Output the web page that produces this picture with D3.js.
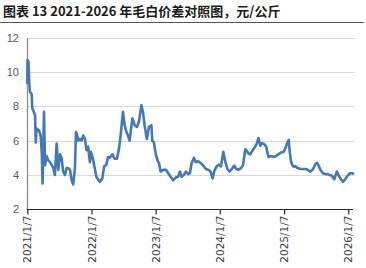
<!DOCTYPE html>
<html>
<head>
<meta charset="utf-8">
<script src="https://cdn.jsdelivr.net/npm/d3@7"></script>
<style>
  body { margin: 0; background: #fff; }
  svg { display: block; font-family: "Noto Sans CJK SC", "Liberation Sans", sans-serif; }
</style>
</head>
<body>
<div id="chart"></div>
<script>
// 毛白价差 (元/公斤), weekly-ish readings
const dates = [
  "2021-01-07","2021-01-08","2021-01-14","2021-01-18","2021-01-22","2021-02-01","2021-02-04","2021-02-14","2021-02-20","2021-02-24",
  "2021-03-01","2021-03-14","2021-03-24","2021-03-30","2021-04-04","2021-04-12","2021-04-18","2021-04-27","2021-05-06","2021-05-16",
  "2021-05-26","2021-06-04","2021-06-13","2021-06-23","2021-07-02","2021-07-12","2021-07-21","2021-07-30","2021-08-09","2021-08-19",
  "2021-08-28","2021-09-07","2021-09-16","2021-09-25","2021-10-05","2021-10-11","2021-10-18","2021-10-24","2021-11-02","2021-11-12",
  "2021-11-21","2021-12-01","2021-12-10","2021-12-19","2021-12-29","2022-01-04",
  "2022-01-13","2022-01-22","2022-02-04","2022-02-23","2022-03-10","2022-03-20","2022-04-02","2022-04-11","2022-04-21","2022-05-06",
  "2022-05-19","2022-06-01","2022-06-13","2022-06-22","2022-07-05","2022-07-15","2022-07-25","2022-08-03","2022-08-12","2022-08-28",
  "2022-09-10","2022-09-23","2022-10-04","2022-10-18","2022-10-27","2022-11-05","2022-11-18","2022-11-30","2022-12-14","2022-12-19",
  "2022-12-28",
  "2023-01-09","2023-01-18","2023-01-27","2023-02-04","2023-02-19","2023-03-07","2023-03-20","2023-04-02","2023-04-17","2023-05-02",
  "2023-05-15","2023-05-25","2023-06-03","2023-06-17","2023-06-28","2023-07-11","2023-07-21","2023-07-30","2023-08-13","2023-08-24",
  "2023-09-06","2023-09-20","2023-10-04","2023-10-20","2023-11-02","2023-11-15","2023-11-27","2023-12-06","2023-12-20","2024-01-02",
  "2024-01-14","2024-01-27","2024-02-08","2024-02-19","2024-03-02","2024-03-16","2024-03-29","2024-04-10","2024-04-23","2024-05-06",
  "2024-05-18","2024-05-31","2024-06-09","2024-06-18","2024-06-28","2024-07-13","2024-07-26","2024-08-05","2024-08-14","2024-08-24",
  "2024-09-02","2024-09-15","2024-09-27","2024-10-10","2024-10-23","2024-11-07","2024-11-22","2024-12-05","2024-12-19",
  "2025-01-05","2025-01-14","2025-01-24","2025-02-02","2025-02-08","2025-02-16","2025-02-27","2025-03-12","2025-03-25","2025-04-10",
  "2025-04-25","2025-05-08","2025-05-21","2025-06-05","2025-06-21","2025-07-04","2025-07-13","2025-07-22","2025-08-01","2025-08-16",
  "2025-08-29","2025-09-11","2025-09-23","2025-10-06","2025-10-19","2025-11-03","2025-11-12","2025-11-26","2025-12-07","2025-12-20",
  "2025-12-30","2026-01-07","2026-01-17","2026-02-01","2026-02-08"
];
const spread = [
  9.3,10.7,10.6,9.4,8.85,8.7,7.9,7.65,7.5,5.9,
  6.7,6.6,6.3,5.35,3.5,7.68,4.57,5.1,4.85,4.75,
  4.6,4.4,4.0,5.83,4.3,5.2,5.0,4.2,4.0,4.4,
  4.4,4.3,3.7,3.45,4.4,6.5,6.3,6.0,6.1,6.0,
  6.3,6.1,5.45,5.65,4.75,5.35,
  5.05,4.6,3.9,3.6,3.8,4.5,4.6,5.05,5.0,5.2,
  4.95,4.95,5.55,6.3,7.68,6.9,6.5,6.3,6.0,7.3,
  6.9,6.8,7.1,8.07,7.68,6.9,6.1,6.8,6.9,6.0,
  5.9,
  5.15,4.85,4.65,4.2,4.3,4.3,4.1,3.9,3.7,3.85,
  3.9,4.2,3.9,4.0,4.2,4.05,4.1,4.65,5.0,4.75,
  4.8,4.7,4.55,4.35,4.3,4.2,3.8,4.2,4.5,4.6,
  4.5,5.35,4.75,4.35,4.2,4.35,4.55,4.35,4.3,4.4,
  4.55,5.5,5.4,5.25,5.2,5.45,5.65,5.85,6.15,5.7,
  5.85,5.8,5.65,5.05,5.1,5.05,5.1,5.2,5.3,
  5.35,5.55,5.85,6.05,5.35,4.75,4.5,4.5,4.4,4.35,
  4.35,4.35,4.3,4.2,4.35,4.65,4.7,4.55,4.3,4.1,
  4.05,4.05,4.0,3.95,3.75,4.2,4.0,3.75,3.6,3.75,
  3.9,4.0,4.1,4.1,4.05
];
const xTickDates = ["2021-01-07","2022-01-07","2023-01-07","2024-01-07","2025-01-07","2026-01-07"];
const xTickLabels = ["2021/1/7","2022/1/7","2023/1/7","2024/1/7","2025/1/7","2026/1/7"];
const yTicks = [2,4,6,8,10,12];
const title = "图表 13 2021-2026 年毛白价差对照图，元/公斤";

const W = 366, H = 268;
const parse = d3.timeParse("%Y-%m-%d");
const data = dates.map((d, i) => ({ date: parse(d), value: spread[i] }));

const svg = d3.select("#chart").append("svg")
  .attr("width", W)
  .attr("height", H);

// title + rule
svg.append("text")
  .attr("x", 3)
  .attr("y", 16)
  .style("font-size", "13px")
  .style("font-weight", "bold")
  .style("fill", "#1a1a1a")
  .text(title);
svg.append("line")
  .attr("x1", 0).attr("x2", 364)
  .attr("y1", 22.5).attr("y2", 22.5)
  .attr("stroke", "#555")
  .attr("stroke-width", 1.2);

const x = d3.scaleTime()
  .domain([parse(xTickDates[0]), parse(xTickDates[xTickDates.length - 1])])
  .range([27.3, 348.3]);
const y = d3.scaleLinear()
  .domain([2, 12])
  .range([209.3, 37.7]);

// gridlines
svg.append("g")
  .selectAll("line")
  .data(yTicks.slice(1))
  .enter()
  .append("line")
  .attr("x1", 27).attr("x2", 355)
  .attr("y1", d => Math.round(y(d)) + 0.5)
  .attr("y2", d => Math.round(y(d)) + 0.5)
  .attr("stroke", "#d9d9d9")
  .attr("stroke-width", 1);

// y axis
const yAxis = svg.append("g")
  .attr("transform", "translate(27,0)")
  .call(d3.axisLeft(y).tickValues(yTicks).tickSize(0).tickPadding(8));
yAxis.select(".domain").attr("stroke", "#8c8c8c").attr("stroke-width", 1.3);
yAxis.selectAll("text")
  .style("font-family", "'Liberation Sans', Arial, sans-serif")
  .style("font-size", "11px")
  .style("fill", "#595959");

// x axis
const xAxis = svg.append("g")
  .attr("transform", "translate(0,209.5)")
  .call(d3.axisBottom(x)
    .tickValues(xTickDates.map(parse))
    .tickFormat((d, i) => xTickLabels[i])
    .tickSize(5)
    .tickSizeOuter(0));
xAxis.select(".domain")
  .attr("d", `M27,0H353`)
  .attr("stroke", "#262626")
  .attr("stroke-width", 1.2);
xAxis.selectAll(".tick line").attr("stroke", "#262626").attr("stroke-width", 1.2);
xAxis.selectAll("text")
  .attr("transform", "rotate(-90)")
  .attr("x", -6)
  .attr("y", 0)
  .attr("dy", "0.35em")
  .style("text-anchor", "end")
  .style("font-family", "'DejaVu Sans', sans-serif")
  .style("font-size", "10.5px")
  .style("fill", "#404040");

// series line
svg.append("path")
  .datum(data)
  .attr("fill", "none")
  .attr("stroke", "#4479b8")
  .attr("stroke-width", 2.6)
  .attr("stroke-linejoin", "round")
  .attr("d", d3.line().x(d => x(d.date)).y(d => y(d.value)));
</script>
</body>
</html>
